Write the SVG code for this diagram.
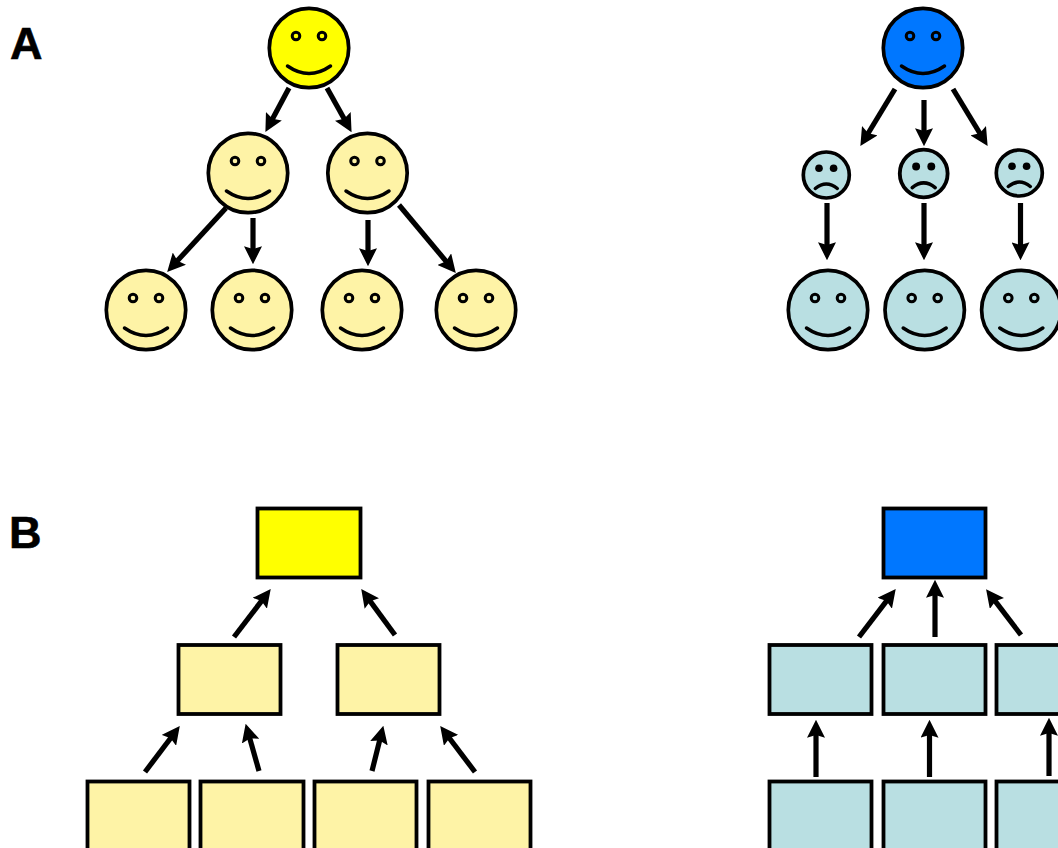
<svg xmlns="http://www.w3.org/2000/svg" width="1058" height="848" viewBox="0 0 1058 848">
<style>
.label{font-family:"Liberation Sans",Arial,sans-serif;font-weight:700;font-size:45px;fill:#000;stroke:#000;stroke-width:.6}
.ol{stroke:#000;stroke-width:3.7}
.box{stroke:#000;stroke-width:3.8}
.eye{fill:none;stroke:#000;stroke-width:3}
.dot{fill:#000}
.mouth{fill:none;stroke:#000;stroke-width:3.5;stroke-linecap:round}
.y{fill:#ffff00}.p{fill:#fef3a6}.b{fill:#0077ff}.t{fill:#b9dfe2}
#connectors line{stroke:#000;stroke-width:5.200;marker-end:url(#head)}
</style>
<defs>
<marker id="head" markerUnits="userSpaceOnUse" markerWidth="18" markerHeight="18" viewBox="0 0 16 16" refX="6" refY="8" orient="auto">
<polygon points="0,0 16,8 0,16 2.500,8" fill="#000"/>
</marker>
<g id="smile">
<circle class="ol" r="39.700"/>
<circle class="eye" cx="-13" cy="-12" r="3.800"/><circle class="eye" cx="13" cy="-12" r="3.800"/>
<path class="mouth" d="M-21.500 18Q0 33 21.500 18"/>
</g>
<g id="frown">
<circle class="ol" r="23"/>
<circle class="dot" cx="-7.300" cy="-6.800" r="3.800"/><circle class="dot" cx="7.300" cy="-6.800" r="3.800"/>
<path class="mouth" d="M-11 13.500Q0 4.500 11 13.500"/>
</g>
</defs>
<rect width="1058" height="848" fill="#fff"/>
<text class="label" x="10" y="59">A</text>
<text class="label" x="9" y="548">B</text>
<g id="connectors">
<line x1="289" y1="88" x2="270.700" y2="122.200"/>
<line x1="327" y1="88" x2="346.100" y2="122.300"/>
<line x1="226" y1="208" x2="174.800" y2="263.600"/>
<line x1="253" y1="218" x2="253" y2="253"/>
<line x1="368" y1="220" x2="368" y2="255"/>
<line x1="399" y1="205" x2="448.600" y2="264.300"/>
<line x1="895" y1="89" x2="866.200" y2="136.500"/>
<line x1="924" y1="100" x2="924" y2="135"/>
<line x1="953" y1="89" x2="981.800" y2="136.500"/>
<line x1="827" y1="203" x2="827" y2="249"/>
<line x1="924" y1="203" x2="924" y2="249"/>
<line x1="1020.500" y1="203" x2="1020.500" y2="249"/>
<line x1="234" y1="637" x2="263.900" y2="597.900"/>
<line x1="395" y1="635" x2="367.900" y2="598.100"/>
<line x1="145" y1="772" x2="173" y2="735"/>
<line x1="259" y1="771" x2="248.700" y2="734.600"/>
<line x1="372" y1="771" x2="380.600" y2="736.700"/>
<line x1="475" y1="772" x2="447" y2="735"/>
<line x1="859" y1="637" x2="888.900" y2="597.900"/>
<line x1="935" y1="637" x2="935" y2="591"/>
<line x1="1021" y1="635" x2="992.900" y2="598.100"/>
<line x1="816" y1="777" x2="816" y2="731"/>
<line x1="929.500" y1="777" x2="929.500" y2="731"/>
<line x1="1049" y1="776" x2="1049" y2="729"/>
</g>
<g id="a-left-top"><use href="#smile" class="y" x="309" y="48"/></g>
<g id="a-left-mid1"><use href="#smile" class="p" x="248" y="173"/></g>
<g id="a-left-mid2"><use href="#smile" class="p" x="367.500" y="173"/></g>
<g id="a-left-bot1"><use href="#smile" class="p" x="146" y="310"/></g>
<g id="a-left-bot2"><use href="#smile" class="p" x="252" y="310"/></g>
<g id="a-left-bot3"><use href="#smile" class="p" x="362" y="310"/></g>
<g id="a-left-bot4"><use href="#smile" class="p" x="476" y="310"/></g>
<g id="a-right-top"><use href="#smile" class="b" x="923" y="48"/></g>
<g id="a-right-mid1"><use href="#frown" class="t" x="826.300" y="175"/></g>
<g id="a-right-mid2"><use href="#frown" class="t" x="923.700" y="173.500" transform="translate(923.700 173.500) scale(1.040) translate(-923.700 -173.500)"/></g>
<g id="a-right-mid3"><use href="#frown" class="t" x="1019.300" y="173"/></g>
<g id="a-right-bot1"><use href="#smile" class="t" x="828" y="310"/></g>
<g id="a-right-bot2"><use href="#smile" class="t" x="924.700" y="310"/></g>
<g id="a-right-bot3"><use href="#smile" class="t" x="1021.300" y="310"/></g>
<g id="b-left-top"><rect class="box y" x="257.500" y="508.500" width="103" height="69"/></g>
<g id="b-left-mid1"><rect class="box p" x="178.500" y="645" width="102" height="69"/></g>
<g id="b-left-mid2"><rect class="box p" x="337.500" y="645" width="102" height="69"/></g>
<g id="b-left-bot1"><rect class="box p" x="87.500" y="781.500" width="102" height="80"/></g>
<g id="b-left-bot2"><rect class="box p" x="200.500" y="781.500" width="103" height="80"/></g>
<g id="b-left-bot3"><rect class="box p" x="314.500" y="781.500" width="102" height="80"/></g>
<g id="b-left-bot4"><rect class="box p" x="428.500" y="781.500" width="102" height="80"/></g>
<g id="b-right-top"><rect class="box b" x="883.500" y="508.500" width="102" height="69"/></g>
<g id="b-right-mid1"><rect class="box t" x="769.500" y="645" width="102" height="69"/></g>
<g id="b-right-mid2"><rect class="box t" x="883.500" y="645" width="102" height="69"/></g>
<g id="b-right-mid3"><rect class="box t" x="996.500" y="645" width="102" height="69"/></g>
<g id="b-right-bot1"><rect class="box t" x="769.500" y="781.500" width="102" height="80"/></g>
<g id="b-right-bot2"><rect class="box t" x="883.500" y="781.500" width="102" height="80"/></g>
<g id="b-right-bot3"><rect class="box t" x="996.500" y="781.500" width="102" height="80"/></g>
</svg>
